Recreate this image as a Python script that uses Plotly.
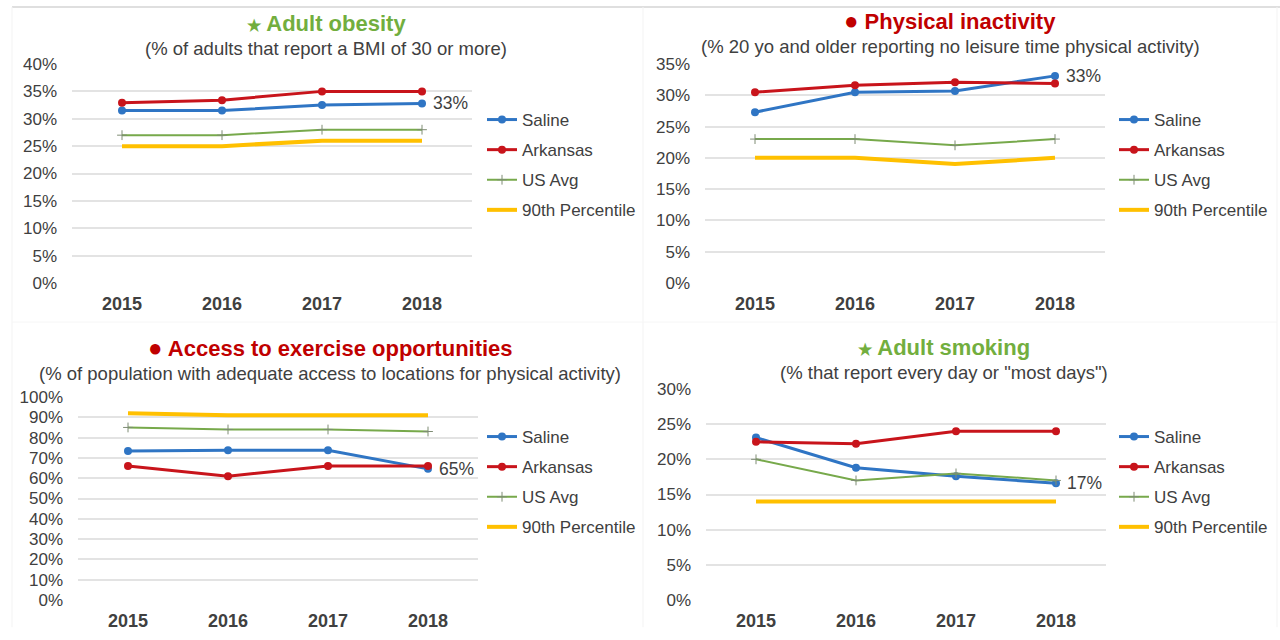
import plotly.graph_objects as go

years = ["2015", "2016", "2017", "2018"]
series_names = ["Saline", "Arkansas", "US Avg", "90th Percentile"]

obesity_saline = [0.315, 0.315, 0.325, 0.328]
obesity_arkansas = [0.329, 0.334, 0.350, 0.350]
obesity_us = [0.270, 0.270, 0.280, 0.280]
obesity_p90 = [0.250, 0.250, 0.260, 0.260]

inactivity_saline = [0.273, 0.305, 0.307, 0.331]
inactivity_arkansas = [0.305, 0.316, 0.321, 0.319]
inactivity_us = [0.230, 0.230, 0.220, 0.230]
inactivity_p90 = [0.200, 0.200, 0.190, 0.200]

access_saline = [0.734, 0.738, 0.738, 0.646]
access_arkansas = [0.660, 0.610, 0.660, 0.660]
access_us = [0.850, 0.840, 0.840, 0.830]
access_p90 = [0.920, 0.910, 0.910, 0.910]

smoking_saline = [0.231, 0.188, 0.176, 0.166]
smoking_arkansas = [0.225, 0.222, 0.240, 0.240]
smoking_us = [0.200, 0.170, 0.180, 0.170]
smoking_p90 = [0.140, 0.140, 0.140, 0.140]

titles = ["Adult obesity", "Physical inactivity",
          "Access to exercise opportunities", "Adult smoking"]
title_icons = ["★", "●", "●", "★"]
subtitles = ["(% of adults that report a BMI of 30 or more)",
             "(% 20 yo and older reporting no leisure time physical activity)",
             "(% of population with adequate access to locations for physical activity)",
             "(% that report every day or \"most days\")"]
value_labels = ["33%", "33%", "65%", "17%"]

W, H = 1280, 640
GREEN_T = "#72AE3E"
RED_T = "#C00000"
title_colors = [GREEN_T, RED_T, RED_T, GREEN_T]
FONT = "Liberation Sans, Arial, sans-serif"
TXT = "#404040"

panels = [
    dict(data=[obesity_saline, obesity_arkansas, obesity_us, obesity_p90],
         x0=72, x1=472, ytop=64, ybot=283, ymax=0.40, dtick=0.05,
         tcx=326, ty=24, sty=49, legx=482, legy=165),
    dict(data=[inactivity_saline, inactivity_arkansas, inactivity_us, inactivity_p90],
         x0=705, x1=1105, ytop=64, ybot=283, ymax=0.35, dtick=0.05,
         tcx=950, ty=20, sty=46, legx=1114, legy=165),
    dict(data=[access_saline, access_arkansas, access_us, access_p90],
         x0=78, x1=478, ytop=397, ybot=600, ymax=1.00, dtick=0.10,
         tcx=330, ty=347, sty=373, legx=482, legy=482),
    dict(data=[smoking_saline, smoking_arkansas, smoking_us, smoking_p90],
         x0=706, x1=1106, ytop=389, ybot=600, ymax=0.30, dtick=0.05,
         tcx=944, ty=347, sty=372, legx=1114, legy=482),
]

styles = [
    dict(color="#2F75C4", width=3, marker=dict(symbol="circle", size=8, color="#2F75C4")),
    dict(color="#C8141B", width=3, marker=dict(symbol="circle", size=8, color="#C8141B")),
    dict(color="#77A94B", width=2, marker=dict(symbol="cross-thin", size=7,
                                               line=dict(width=1, color="#7E8C74"))),
    dict(color="#FFC000", width=4, marker=None),
]

fig = go.Figure()
layout = dict(width=W, height=H, margin=dict(l=0, r=0, t=0, b=0, autoexpand=False),
              paper_bgcolor="white", plot_bgcolor="white", showlegend=True)
annotations = []
shapes = []

for i, p in enumerate(panels):
    n = "" if i == 0 else str(i + 1)
    xa, ya = "x" + n, "y" + n
    leg = "legend" + n
    for j, (vals, st) in enumerate(zip(p["data"], styles)):
        kw = dict(x=years, y=vals, name=series_names[j], xaxis=xa, yaxis=ya,
                  legend=leg, legendgroup=f"{leg}_{j}",
                  line=dict(color=st["color"], width=st["width"]),
                  hovertemplate="%{x}: %{y:.1%}<extra>" + series_names[j] + "</extra>")
        if st["marker"] is not None:
            kw["mode"] = "lines+markers"
            kw["marker"] = st["marker"]
        else:
            kw["mode"] = "lines"
        fig.add_trace(go.Scatter(**kw))

    layout["xaxis" + n] = dict(domain=[p["x0"] / W, p["x1"] / W], anchor=ya,
                               type="category", range=[-0.5, 3.5],
                               showgrid=False, zeroline=False, showline=False,
                               ticks="", ticklabelstandoff=8, automargin=False,
                               tickfont=dict(family=FONT, size=18, color=TXT, weight="bold"))
    layout["yaxis" + n] = dict(domain=[1 - p["ybot"] / H, 1 - p["ytop"] / H], anchor=xa,
                               range=[0, p["ymax"]], dtick=p["dtick"], tick0=0,
                               tickformat=".0%", showgrid=True, gridcolor="#E3E3E3",
                               gridwidth=1.5, zeroline=False, showline=False,
                               ticks="", ticklabelstandoff=14, automargin=False,
                               tickfont=dict(family=FONT, size=17, color=TXT))
    layout[leg] = dict(x=p["legx"] / W, xanchor="left", y=1 - p["legy"] / H,
                       yanchor="middle", tracegroupgap=5, bgcolor="rgba(0,0,0,0)",
                       font=dict(family=FONT, size=17, color=TXT))

    # title + subtitle
    annotations.append(dict(
        xref="paper", yref="paper", x=p["tcx"] / W, y=1 - p["ty"] / H,
        xanchor="center", yanchor="middle", showarrow=False,
        text=f"<span style='font-size:{16 if title_icons[i]=='★' else 24}px'>{title_icons[i]}</span> {titles[i]}",
        font=dict(family=FONT, size=22, color=title_colors[i], weight="bold")))
    annotations.append(dict(
        xref="paper", yref="paper", x=p["tcx"] / W, y=1 - p["sty"] / H,
        xanchor="center", yanchor="middle", showarrow=False, text=subtitles[i],
        font=dict(family=FONT, size=18.5, color=TXT)))
    # data label on last Saline value (category index of the last year)
    annotations.append(dict(
        xref=xa, yref=ya, x=len(years) - 1, y=p["data"][0][-1],
        xanchor="left", yanchor="middle", xshift=9, showarrow=False,
        text=value_labels[i], font=dict(family=FONT, size=17.5, color=TXT)))

# faint frame lines
shapes.append(dict(type="line", xref="paper", yref="paper", x0=12 / W, x1=1.0,
                   y0=1 - 7 / H, y1=1 - 7 / H, line=dict(color="#D4D4D4", width=1.5)))
for xp in (12, 643, 1277):
    shapes.append(dict(type="line", xref="paper", yref="paper", x0=xp / W, x1=xp / W,
                       y0=0.02, y1=1 - 7 / H, line=dict(color="#F3F3F3", width=1)))
shapes.append(dict(type="line", xref="paper", yref="paper", x0=12 / W, x1=1277 / W,
                   y0=1 - 322 / H, y1=1 - 322 / H, line=dict(color="#F6F6F6", width=1)))

layout["annotations"] = annotations
layout["shapes"] = shapes
fig.update_layout(**layout)
fig.write_html(
    "out.html",
    config={"responsive": False, "displayModeBar": False},
    post_script="document.body.style.margin='0';document.body.style.padding='0';"
                "document.body.style.overflow='hidden';",
)
